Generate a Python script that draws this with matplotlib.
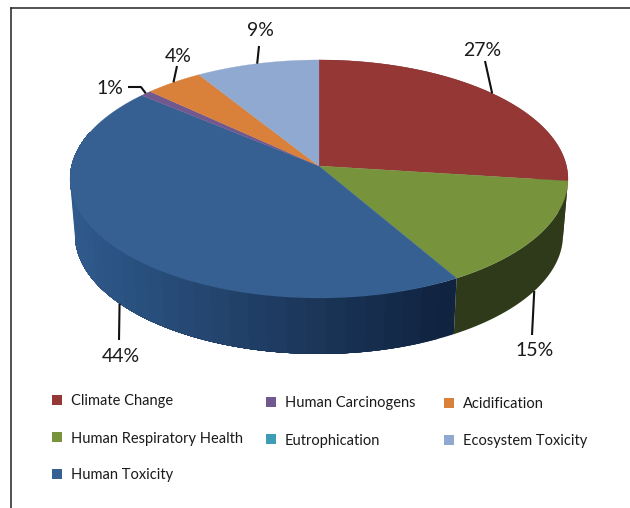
import numpy as np
import matplotlib
matplotlib.use('Agg')
import matplotlib.pyplot as plt
from matplotlib.colors import to_rgb
from matplotlib.patches import Polygon, Rectangle

# slice order runs clockwise from 12 o'clock
categories = ['Climate Change', 'Human Respiratory Health', 'Human Toxicity',
              'Human Carcinogens', 'Eutrophication', 'Acidification',
              'Ecosystem Toxicity']
shares = [27.0, 14.6, 44.5, 0.8, 0.0, 4.2, 8.9]
labels = ['27%', '15%', '44%', '1%', None, '4%', '9%']

top_colors = ['#953735', '#77933c', '#366092', '#71588f', '#3f9cb5', '#d9813a', '#8fa9d0']
side_colors = ['#5a2120', '#2e3a1a', '#2f5a8c', '#43345a', '#255d6c', '#82481f', '#55657d']
side_dark = '#10233f'

# perspective squeeze of the tilted disc (far edge smaller)
CX, CY, RX, RY, K = 319., 166., 247.5, 117.6, 0.109
DEPTH, BOTTOM_SCALE = 56., 0.98
FAMILY = 'Lato'


def rim(theta, lower=False):
    X, Y = np.sin(theta), np.cos(theta)
    w = 1 + K * Y
    if lower:
        return CX + BOTTOM_SCALE * RX * X / w, CY + DEPTH - RY * Y / w
    return CX + RX * X / w, CY - RY * Y / w


def wall(t0, t1, col):
    ts = np.linspace(t0, t1, 60)
    up = np.column_stack(rim(ts))
    down = np.column_stack(rim(ts, lower=True))
    ax.add_patch(Polygon(np.vstack([up, down[::-1]]), fc=col, ec='none', zorder=2))


fig = plt.figure(figsize=(6.3, 5.08), dpi=100)
ax = fig.add_axes([0, 0, 1, 1])
ax.set_xlim(0, 630)
ax.set_ylim(508, 0)
ax.axis('off')

# page frame
ax.plot([11, 11], [8, 508], color='#222222', lw=1.1)
ax.plot([11, 630], [8, 8], color='#222222', lw=1.1)

edges = 2 * np.pi * np.cumsum([0] + shares) / sum(shares)

# side wall first; each band runs on to the slice end so no seams show
for i in range(len(shares)):
    if shares[i] == 0 or np.cos(edges[i]) > 0.15 and np.cos(edges[i + 1]) > 0.15:
        continue
    if categories[i] == 'Human Toxicity':
        # the wall is drawn from its right end, getting lighter to the left
        ts = np.linspace(edges[i], edges[i + 1], 40)
        t_end = min(edges[i + 1], 1.5 * np.pi + 0.3)
        ts = ts[ts < t_end]
        for t in ts:
            x0 = rim(t)[0]
            f = np.clip((x0 - 75) / 380, 0, 1)
            col = (1 - f) * np.array(to_rgb(side_colors[i])) + f * np.array(to_rgb(side_dark))
            wall(t, t_end, col)
    else:
        wall(edges[i], edges[i + 1], side_colors[i])

# top face
for i in range(len(shares)):
    if shares[i] == 0:
        continue
    ts = np.linspace(edges[i], edges[i + 1], 120)
    x, y = rim(ts)
    pts = np.vstack([[CX, CY], np.column_stack((x, y))])
    ax.add_patch(Polygon(pts, fc=top_colors[i], ec=top_colors[i], lw=0.2, zorder=3))

# data labels: text position, leader end, optional elbow; leader starts on the rim
label_pos = {'27%': (482, 50), '15%': (535, 351), '44%': (121, 356),
             '1%': (110, 88), '4%': (178, 56), '9%': (260, 31)}
leader_end = {'27%': (485, 61), '15%': (532, 335), '44%': (119, 340),
              '1%': (128, 87), '4%': (177, 66), '9%': (259, 46)}
elbow = {'1%': (141, 87)}
lower_rim = {'15%', '44%'}

for i, lab in enumerate(labels):
    if lab is None:
        continue
    mid = 0.5 * (edges[i] + edges[i + 1])
    sx, sy = rim(mid, lower=lab in lower_rim)
    path = [(sx, sy)]
    if lab in elbow:
        path.append(elbow[lab])
    path.append(leader_end[lab])
    ax.plot(*zip(*path), color='#111111', lw=1.5, zorder=4, solid_capstyle='butt')
    ax.text(*label_pos[lab], lab, ha='center', va='center', fontsize=14,
            family=FAMILY, color='#1a1a1a', zorder=5)

# legend
legend_slots = {'Climate Change': (52, 400), 'Human Respiratory Health': (52, 437),
                'Human Toxicity': (52, 474), 'Human Carcinogens': (266, 402),
                'Eutrophication': (266, 439), 'Acidification': (444, 403),
                'Ecosystem Toxicity': (444, 440)}
for name, col in zip(categories, top_colors):
    lx, ly = legend_slots[name]
    ax.add_patch(Rectangle((lx, ly - 5), 10, 10, fc=col, ec='none'))
    ax.text(lx + 19, ly + 1.5, name, ha='left', va='center', fontsize=10.5,
            family=FAMILY, color='#1a1a1a')

fig.savefig('out.png', dpi=100)
